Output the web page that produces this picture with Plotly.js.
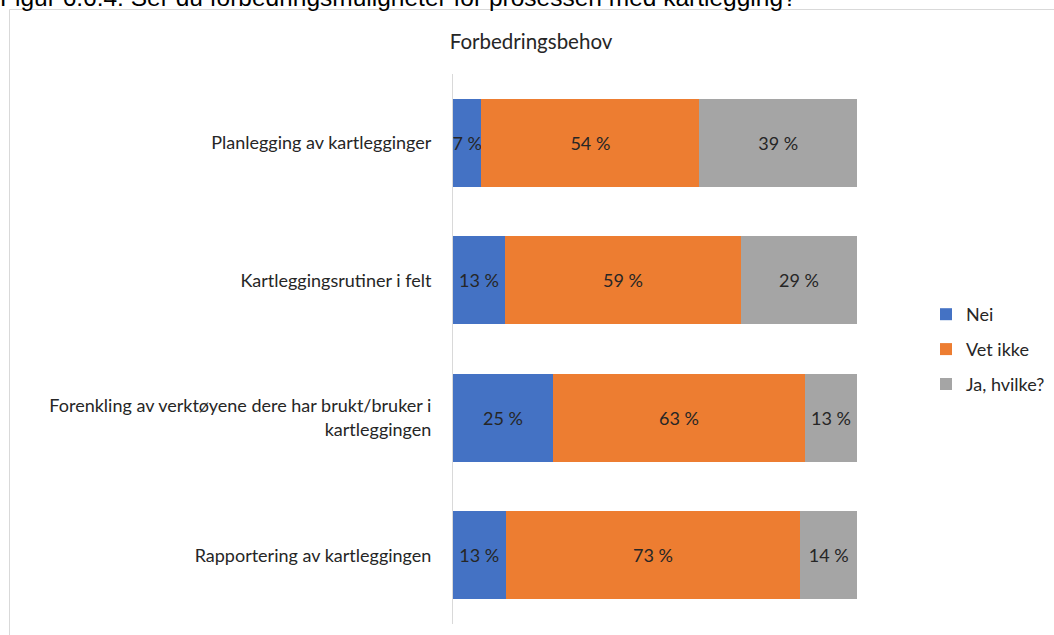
<!DOCTYPE html>
<html>
<head>
<meta charset="utf-8">
<script src="https://cdn.plot.ly/plotly-3.0.1.min.js"></script>
<style>
html,body{margin:0;padding:0;background:#fff;}
#chart{width:1054px;height:635px;}
</style>
</head>
<body>
<div id="chart"></div>
<script>
const categories = [
  "Planlegging av kartlegginger",
  "Kartleggingsrutiner i felt",
  "Forenkling av verktøyene dere har brukt/bruker i<br>kartleggingen",
  "Rapportering av kartleggingen"
];
const nei = [7, 13, 25, 13];
const vetIkke = [54, 59, 63, 73];
const jaHvilke = [39, 29, 13, 14];
const seriesNames = ["Nei", "Vet ikke", "Ja, hvilke?"];
const colors = ["#4472c4", "#ed7d31", "#a5a5a5"];
const chartTitle = "Forbedringsbehov";
const caption = "Figur 6.6.4: Ser du forbedringsmuligheter for prosessen med kartlegging?";

const font = "Lato, 'Open Sans', sans-serif";
const series = [nei, vetIkke, jaHvilke];
const traces = series.map((vals, i) => ({
  type: "bar",
  orientation: "h",
  name: seriesNames[i],
  legendgroup: "g" + i,
  y: categories,
  x: vals,
  text: vals.map(v => v + " %"),
  textposition: "inside",
  insidetextanchor: "middle",
  textangle: 0,
  constraintext: "none",
  textfont: {family: font, size: 18, color: "#262626"},
  marker: {color: colors[i], line: {width: 0}},
  hoverinfo: "none"
}));

const L = 453, R = 197, T = 74, B = 11;
const W = 1054 - L - R, H = 635 - T - B;
const px = x => (x - L) / W;
const py = y => 1 - (y - T) / H;

const layout = {
  width: 1054, height: 635,
  margin: {l: L, r: R, t: T, b: B, pad: 0, autoexpand: false},
  barmode: "stack",
  barnorm: "percent",
  bargap: 0.36,
  paper_bgcolor: "#fff",
  plot_bgcolor: "#fff",
  showlegend: true,
  legend: {
    x: px(926), y: py(296), xanchor: "left", yanchor: "top",
    traceorder: "grouped",
    font: {family: font, size: 18, color: "#262626"},
    itemwidth: 30, tracegroupgap: 8.5,
    itemsizing: "constant"
  },
  title: {
    text: chartTitle,
    x: 531/1054, xref: "container", xanchor: "center",
    y: 1 - 42/635, yref: "container", yanchor: "middle",
    font: {family: font, size: 20.5, color: "#262626"}
  },
  xaxis: {
    range: [0, 100], showgrid: false, zeroline: false, showline: false,
    showticklabels: false, ticks: "", fixedrange: true
  },
  yaxis: {
    autorange: "reversed", showgrid: false, zeroline: false,
    showline: true, linecolor: "#d9d9d9", linewidth: 1,
    ticks: "", ticklabelstandoff: 17,
    tickfont: {family: font, size: 18, color: "#262626"},
    fixedrange: true
  },
  shapes: [
    {type: "line", xref: "paper", yref: "paper", x0: px(9.5), x1: px(9.5), y0: py(9.5), y1: py(640), line: {color: "#d9d9d9", width: 1}},
    {type: "line", xref: "paper", yref: "paper", x0: px(9.5), x1: px(1060), y0: py(9.5), y1: py(9.5), line: {color: "#d9d9d9", width: 1}}
  ],
  annotations: [
    {text: caption, xref: "paper", yref: "paper", x: px(-2), y: py(-2.5), xanchor: "left", yanchor: "middle",
     showarrow: false, font: {family: "Liberation Sans, Arial, sans-serif", size: 24.5, color: "#000"}}
  ]
};

Plotly.newPlot("chart", traces, layout, {displayModeBar: false, staticPlot: true});
</script>
</body>
</html>
